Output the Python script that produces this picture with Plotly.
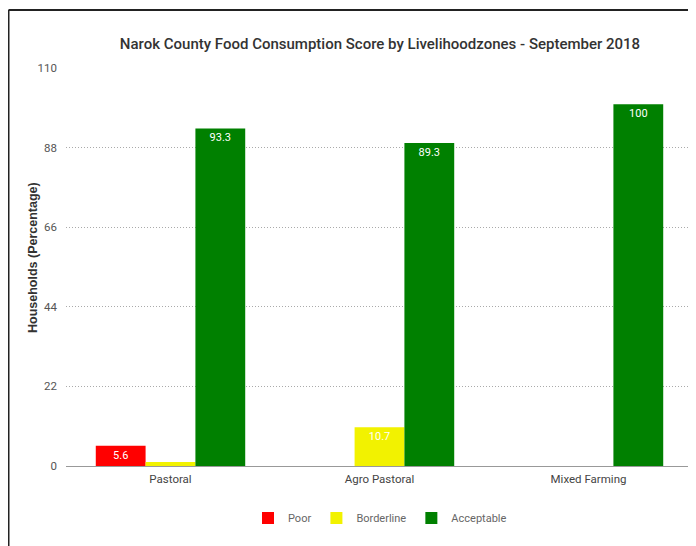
import plotly.graph_objects as go

categories = ["Pastoral", "Agro Pastoral", "Mixed Farming"]
poor = [5.6, 0, 0]
borderline = [1.1, 10.7, 0]
acceptable = [93.3, 89.3, 100]
y_ticks = [0, 22, 44, 66, 88, 110]

series = [("Poor", poor, "#ff0000"), ("Borderline", borderline, "#f2f200"), ("Acceptable", acceptable, "#008000")]

def labels(vals):
    return [("%g" % v) if v >= 3 else "" for v in vals]

fig = go.Figure()
for name, vals, color in series:
    fig.add_trace(go.Bar(
        name=name, x=categories, y=vals, marker_color=color, marker_line_width=0,
        text=labels(vals), textposition="inside", insidetextanchor="end",
        textfont=dict(color="white", size=11),
        textangle=0, cliponaxis=False,
    ))

font_fam = "Roboto, sans-serif"
OFF = 8  # page body margin
W, H = 696, 546
# screen positions of plot area
SL, SR, ST, SB = 66, 693, 68, 466
L, T = SL - OFF, ST - OFF
R = W - (SR - OFF)
B = H - (SB - OFF)
pw, ph = W - L - R, H - T - B

def px(x):
    return (x - OFF - L) / pw

def py(y):
    return (SB - y) / ph

fig.update_layout(
    width=W, height=H,
    margin=dict(l=L, r=R, t=T, b=B, autoexpand=False),
    paper_bgcolor="white", plot_bgcolor="white",
    barmode="group", bargap=0.285, bargroupgap=0,
    title=dict(text="Narok County Food Consumption Score by Livelihoodzones - September 2018",
               x=px(380), xref="paper", xanchor="center", y=1 - (44 - OFF) / H, yref="container",
               yanchor="middle",
               font=dict(family=font_fam, size=15, color="#333333", weight=500)),
    font=dict(family=font_fam, size=11, color="#555555"),
    showlegend=True,
    legend=dict(orientation="h", x=px(380), xanchor="center", y=py(518), yanchor="middle",
                font=dict(size=11, color="#666666"), itemwidth=30, traceorder="normal"),
    xaxis=dict(showgrid=False, showline=False, ticks="", tickfont=dict(size=11.5, color="#444444"),
               ticklabelstandoff=4),
    yaxis=dict(range=[0, 110], tickvals=y_ticks, showgrid=True, gridcolor="#aaaaaa", griddash="1px,2px",
               gridwidth=1, zeroline=True, zerolinecolor="#999999", zerolinewidth=1,
               ticks="", tickfont=dict(size=11.5, color="#555555"), ticklabelstandoff=8),
    annotations=[
        dict(text="<b>Households (Percentage)</b>", textangle=-90, xref="paper", yref="paper",
             x=px(33), y=py(258), xanchor="center", yanchor="middle", showarrow=False,
             font=dict(family="Liberation Sans, Arial, sans-serif", size=12.5, color="#333333")),
    ],
    shapes=[
        dict(type="line", xref="paper", yref="paper", x0=px(8.5), x1=px(710), y0=py(10), y1=py(10),
             line=dict(color="#222222", width=2)),
        dict(type="line", xref="paper", yref="paper", x0=px(8.5), x1=px(8.5), y0=py(10), y1=py(560),
             line=dict(color="#222222", width=2)),
    ],
)

fig.write_html("out.html")
